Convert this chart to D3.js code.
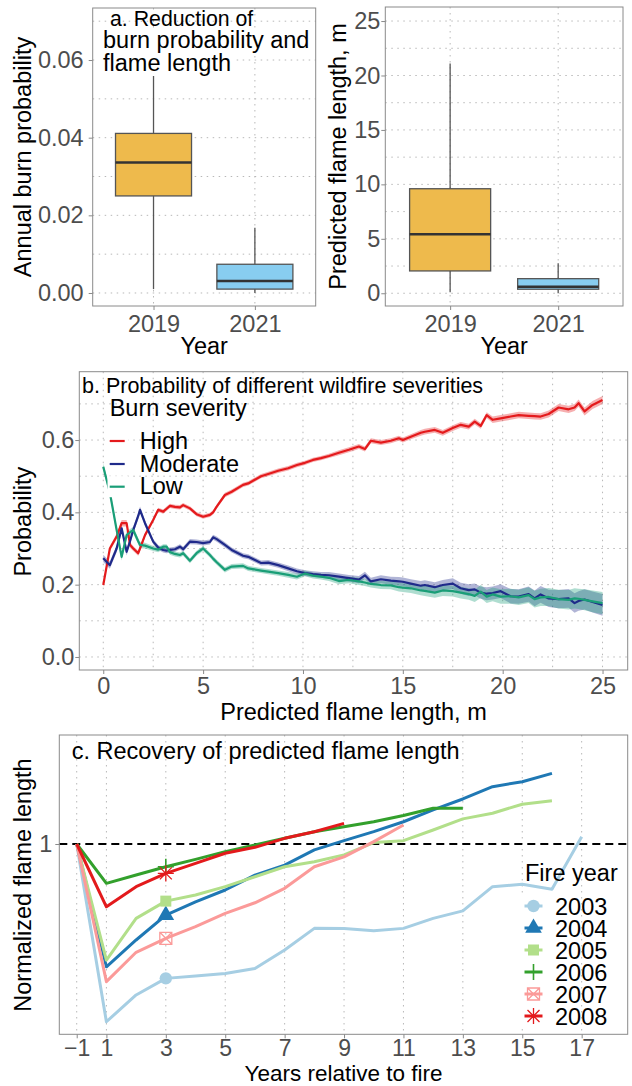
<!DOCTYPE html>
<html lang="en">
<head>
    <meta charset="UTF-8">
    <title>Burn probability and flame length</title>
    <script src="https://d3js.org/d3.v7.min.js"></script>
    <style>
        body { margin: 0; background: #fff; }
        text { font-family: Arial, "Liberation Sans", sans-serif; }
    </style>
</head>
<body>
<svg id="main" width="632" height="1086"></svg>
<script>
    // ---------- panel a data ----------
    const boxYears = ['2019', '2021'];
    const boxFill = ['#EEBA4C', '#88CDF0'];
    // [lower whisker, q1, median, q3, upper whisker]
    const burnProbStats = [[0.001, 0.025, 0.0336, 0.0411, 0.0564], [0.0, 0.001, 0.0031, 0.0074, 0.0168]];
    const flameStats = [[0.1, 2.05, 5.41, 9.6, 21.1], [0.0, 0.37, 0.6, 1.34, 2.75]];
    const burnProbTicks = [0, 0.02, 0.04, 0.06];
    const burnProbMinor = [0.01, 0.03, 0.05, 0.07];
    const flameTicks = [0, 5, 10, 15, 20, 25];
    const flameMinor = [2.5, 7.5, 12.5, 17.5, 22.5];

    // ---------- panel b data ----------
    const sevX = [0, 0.33, 0.67, 0.92, 1.17, 1.34, 1.5, 1.75, 1.84, 2.09, 2.5, 2.75, 3.0, 3.17, 3.34, 3.59, 3.84, 4.0,
        4.34, 4.67, 5.0, 5.34, 5.5, 5.68, 6.09, 6.43, 7.0, 7.26, 7.9, 8.26, 8.76, 9.26, 9.7, 10.1, 10.5, 10.9, 11.3,
        11.8, 12.3, 12.8, 13.1, 13.4, 13.9, 14.4, 14.8, 15.0, 15.4, 15.9, 16.1, 16.6, 17.0, 17.5, 17.9, 18.3, 18.6,
        18.9, 19.2, 19.5, 19.9, 20.4, 20.8, 21.3, 21.6, 21.9, 22.3, 22.8, 23.3, 23.6, 23.8, 24.1, 24.5, 25.0];
    const highP = [0.199, 0.30, 0.333, 0.37, 0.37, 0.31, 0.30, 0.287, 0.30, 0.337, 0.379, 0.407, 0.402, 0.41, 0.418,
        0.415, 0.414, 0.42, 0.411, 0.395, 0.388, 0.393, 0.40, 0.416, 0.448, 0.457, 0.476, 0.48, 0.50, 0.506, 0.515,
        0.522, 0.531, 0.537, 0.545, 0.55, 0.556, 0.565, 0.573, 0.582, 0.575, 0.598, 0.593, 0.598, 0.605, 0.600,
        0.609, 0.62, 0.623, 0.628, 0.62, 0.633, 0.642, 0.637, 0.651, 0.639, 0.669, 0.656, 0.66, 0.665, 0.669, 0.667,
        0.666, 0.665, 0.672, 0.69, 0.685, 0.69, 0.702, 0.679, 0.697, 0.711];
    const modP = [0.273, 0.254, 0.30, 0.356, 0.291, 0.32, 0.351, 0.39, 0.407, 0.37, 0.319, 0.303, 0.296, 0.294, 0.296,
        0.298, 0.305, 0.298, 0.319, 0.318, 0.315, 0.318, 0.331, 0.326, 0.31, 0.296, 0.28, 0.277, 0.26, 0.261, 0.254,
        0.245, 0.237, 0.232, 0.229, 0.227, 0.226, 0.222, 0.218, 0.214, 0.226, 0.209, 0.215, 0.211, 0.209, 0.208,
        0.203, 0.197, 0.199, 0.193, 0.199, 0.203, 0.19, 0.185, 0.187, 0.178, 0.175, 0.177, 0.182, 0.168, 0.167,
        0.174, 0.162, 0.173, 0.162, 0.16, 0.162, 0.149, 0.155, 0.159, 0.152, 0.144];
    const lowP = [0.526, 0.455, 0.351, 0.277, 0.337, 0.345, 0.351, 0.32, 0.31, 0.308, 0.30, 0.297, 0.305, 0.305, 0.29,
        0.285, 0.282, 0.287, 0.266, 0.287, 0.30, 0.282, 0.272, 0.262, 0.241, 0.25, 0.252, 0.245, 0.239, 0.236, 0.232,
        0.227, 0.222, 0.231, 0.225, 0.222, 0.219, 0.21, 0.213, 0.209, 0.206, 0.202, 0.199, 0.198, 0.193, 0.192, 0.19,
        0.184, 0.183, 0.178, 0.184, 0.182, 0.178, 0.174, 0.169, 0.181, 0.167, 0.173, 0.167, 0.168, 0.165, 0.171,
        0.16, 0.165, 0.166, 0.16, 0.158, 0.162, 0.161, 0.158, 0.154, 0.149];
    // half width of the confidence ribbons
    const highSE = [.006, .007, .008, .009, .009, .008, .007, .007, .007, .006, .006, .006, .006, .006, .006, .006,
        .006, .006, .006, .006, .006, .006, .006, .006, .006, .006, .006, .006, .006, .006, .006, .006, .006, .006,
        .006, .006, .006, .007, .007, .007, .007, .007, .007, .007, .007, .007, .007, .008, .008, .008, .008, .008,
        .008, .008, .008, .008, .008, .009, .009, .009, .009, .009, .009, .009, .01, .01, .01, .01, .01, .011, .011, .011];
    const modSE = [.01, .01, .01, .01, .01, .009, .009, .009, .009, .008, .007, .007, .007, .007, .007, .007, .007,
        .007, .007, .007, .007, .007, .007, .007, .007, .007, .007, .007, .007, .007, .007, .008, .008, .008, .008,
        .008, .009, .009, .009, .01, .01, .01, .011, .011, .012, .012, .012, .013, .013, .014, .014, .015, .015, .016,
        .016, .017, .018, .018, .019, .02, .02, .021, .022, .023, .024, .025, .026, .027, .027, .028, .029, .03];
    const lowSE = [.01, .01, .01, .01, .01, .009, .009, .009, .009, .008, .007, .007, .007, .007, .007, .007, .007,
        .007, .007, .007, .007, .007, .007, .007, .007, .007, .007, .007, .007, .007, .007, .008, .008, .008, .008,
        .008, .009, .009, .009, .01, .01, .01, .011, .011, .012, .012, .013, .013, .014, .014, .015, .015, .016, .016,
        .017, .018, .018, .019, .02, .021, .021, .022, .023, .024, .025, .026, .027, .028, .028, .029, .03, .031];
    const sevNames = ['High', 'Moderate', 'Low'];
    const sevColors = ['#E41A1C', '#1F2A8A', '#1A9E77'];
    const sevXTicks = [0, 5, 10, 15, 20, 25];
    const sevXMinor = [2.5, 7.5, 12.5, 17.5, 22.5];
    const sevYTicks = [0, 0.2, 0.4, 0.6];
    const sevYMinor = [0.1, 0.3, 0.5, 0.7];

    // ---------- panel c data ----------
    const fireYears = ['2003', '2004', '2005', '2006', '2007', '2008'];
    const fireColors = ['#A6CEE3', '#1F78B4', '#B2DF8A', '#33A02C', '#FB9A99', '#E31A1C'];
    const fireShapes = ['circle', 'triangle', 'square', 'plus', 'squarecross', 'asterisk'];
    const relYears = [-1, 1, 2, 3, 4, 5, 6, 7, 8, 9, 10, 11, 12, 13, 14, 15, 16, 17];
    const fl2003 = [1, 0.25, 0.363, 0.433, 0.443, 0.454, 0.475, 0.553, 0.644, 0.643, 0.634, 0.644, 0.686, 0.718, 0.82, 0.83, 0.809, 1.031];
    const fl2004 = [1, 0.482, 0.595, 0.70, 0.756, 0.806, 0.869, 0.911, 0.975, 1.014, 1.052, 1.094, 1.144, 1.19, 1.242, 1.263, 1.298];
    const fl2005 = [1, 0.51, 0.686, 0.759, 0.785, 0.82, 0.862, 0.904, 0.925, 0.954, 1.006, 1.014, 1.059, 1.106, 1.13, 1.168, 1.183];
    const fl2006 = [1, 0.834, 0.869, 0.904, 0.935, 0.968, 0.996, 1.024, 1.052, 1.073, 1.094, 1.12, 1.151, 1.151];
    const fl2007 = [1, 0.419, 0.543, 0.602, 0.651, 0.707, 0.752, 0.813, 0.904, 0.946, 1.01, 1.08];
    const fl2008 = [1, 0.735, 0.82, 0.876, 0.918, 0.961, 0.986, 1.024, 1.052, 1.087];
    const flSeries = [fl2003, fl2004, fl2005, fl2006, fl2007, fl2008];
    const relTicks = [-1, 1, 3, 5, 7, 9, 11, 13, 15, 17];

    // ---------- helpers ----------
    const svg = d3.select('svg#main');
    const FS = 23.5;
    const gridCol = '#b8b8b8';

    function grid(g, b, xs, ys) {
        g.selectAll(null).data(xs).enter().append('line')
            .attr('x1', d => d).attr('x2', d => d).attr('y1', b.y0).attr('y2', b.y1)
            .attr('stroke', gridCol).attr('stroke-dasharray', '1.5,4.5');
        g.selectAll(null).data(ys).enter().append('line')
            .attr('y1', d => d).attr('y2', d => d).attr('x1', b.x0).attr('x2', b.x1)
            .attr('stroke', gridCol).attr('stroke-dasharray', '1.5,4.5');
    }

    function border(g, b) {
        g.append('rect').attr('x', b.x0).attr('y', b.y0)
            .attr('width', b.x1 - b.x0).attr('height', b.y1 - b.y0)
            .attr('fill', 'none').attr('stroke', '#8a8a8a').attr('stroke-width', 1);
    }

    function styleAxis(ax, size) {
        ax.select('.domain').remove();
        ax.attr('font-size', null).attr('font-family', null);
        ax.selectAll('.tick line').attr('stroke', '#8a8a8a');
        ax.selectAll('.tick text').attr('fill', '#4d4d4d').style('font-size', (size || FS) + 'px');
    }

    function text(g, x, y, str, size, anchor, rotate) {
        const t = g.append('text').text(str).style('font-size', size + 'px')
            .attr('text-anchor', anchor || 'start').attr('fill', '#000');
        if (rotate) t.attr('transform', `translate(${x},${y}) rotate(-90)`);
        else t.attr('x', x).attr('y', y);
        return t;
    }

    // ---------- panel a ----------
    function boxPanel(b, yDomain, stats, ticks, minor, fmt, gap, ylab, labX) {
        const g = svg.append('g');
        const x = d3.scalePoint().domain(boxYears).range([b.x0, b.x1]).padding(0.6);
        const y = d3.scaleLinear().domain(yDomain).range([b.y1, b.y0]);
        grid(g, b, boxYears.map(x), ticks.concat(minor).map(y));
        const bw = x.step() * 0.75;

        const boxes = g.selectAll('g.box').data(stats).enter().append('g');
        boxes.append('line')
            .attr('x1', (d, i) => x(boxYears[i])).attr('x2', (d, i) => x(boxYears[i]))
            .attr('y1', d => y(d[0])).attr('y2', d => y(d[4]))
            .attr('stroke', '#555').attr('stroke-width', 1.3);
        boxes.append('rect')
            .attr('x', (d, i) => x(boxYears[i]) - bw / 2).attr('width', bw)
            .attr('y', d => y(d[3])).attr('height', d => y(d[1]) - y(d[3]))
            .attr('fill', (d, i) => boxFill[i]).attr('stroke', '#555').attr('stroke-width', 1.3);
        boxes.append('line')
            .attr('x1', (d, i) => x(boxYears[i]) - bw / 2).attr('x2', (d, i) => x(boxYears[i]) + bw / 2)
            .attr('y1', d => y(d[2])).attr('y2', d => y(d[2]))
            .attr('stroke', '#333').attr('stroke-width', 2.5);

        border(g, b);
        const ay = g.append('g').attr('transform', `translate(${b.x0},0)`)
            .call(d3.axisLeft(y).tickValues(ticks).tickFormat(fmt).tickSize(4).tickPadding(gap - 4));
        styleAxis(ay);
        const ax = g.append('g').attr('transform', `translate(0,${b.y1})`)
            .call(d3.axisBottom(x).tickSize(4).tickPadding(5));
        styleAxis(ax);
        text(g, (b.x0 + b.x1) / 2, 354, 'Year', FS, 'middle');
        text(g, labX, (b.y0 + b.y1) / 2, ylab, FS, 'middle', true);
        return g;
    }

    const gA = boxPanel({x0: 92.7, x1: 315.7, y0: 8, y1: 306}, [-0.00335, 0.0734], burnProbStats,
        burnProbTicks, burnProbMinor, d3.format('.2f'), 9, 'Annual burn probability', 31);
    boxPanel({x0: 385.3, x1: 623, y0: 7, y1: 306}, [-1.17, 26.29], flameStats,
        flameTicks, flameMinor, d3.format('d'), 5, 'Predicted flame length, m', 346);

    // panel a annotation
    gA.append('rect').attr('x', 98).attr('y', 30).attr('width', 212).attr('height', 22)
        .attr('rx', 8).attr('fill', '#fff');
    gA.append('rect').attr('x', 98).attr('y', 52).attr('width', 136).attr('height', 24)
        .attr('rx', 8).attr('fill', '#fff');
    text(gA, 110, 26, 'a. Reduction of', 21.3);
    text(gA, 103, 48, 'burn probability and', FS);
    text(gA, 103, 71, 'flame length', FS);

    // ---------- panel b ----------
    const bB = {x0: 79.3, x1: 627.7, y0: 371.7, y1: 670};
    const gB = svg.append('g');
    const xB = d3.scaleLinear().domain([-1.2, 26.26]).range([bB.x0, bB.x1]);
    const yB = d3.scaleLinear().domain([-0.036, 0.789]).range([bB.y1, bB.y0]);
    grid(gB, bB, sevXTicks.concat(sevXMinor).map(xB), sevYTicks.concat(sevYMinor).map(yB));

    const sevSeries = [[highP, highSE], [modP, modSE], [lowP, lowSE]];
    const idx = sevX.map((d, i) => i);
    sevSeries.forEach((s, k) => {
        const area = d3.area().x(i => xB(sevX[i]))
            .y0(i => yB(s[0][i] - s[1][i])).y1(i => yB(s[0][i] + s[1][i]));
        gB.append('path').datum(idx).attr('d', area)
            .attr('fill', sevColors[k]).attr('fill-opacity', 0.35);
    });
    sevSeries.forEach((s, k) => {
        const line = d3.line().x(i => xB(sevX[i])).y(i => yB(s[0][i]));
        gB.append('path').datum(idx).attr('d', line)
            .attr('fill', 'none').attr('stroke', sevColors[k]).attr('stroke-width', 2.2)
            .attr('stroke-linejoin', 'round');
    });

    // legend b
    text(gB, 82, 393.3, 'b. Probability of different wildfire severities', 21.5);
    text(gB, 109.7, 415.7, 'Burn severity', FS);
    const keyY = [441, 464, 486.7];
    sevNames.forEach((n, k) => {
        gB.append('rect').attr('x', 107.5).attr('y', keyY[k] - 10.5).attr('width', 21).attr('height', 21)
            .attr('fill', '#fff');
        gB.append('line').attr('x1', 109.7).attr('x2', 124.7).attr('y1', keyY[k]).attr('y2', keyY[k])
            .attr('stroke', sevColors[k]).attr('stroke-width', 2.2);
        text(gB, 139.7, keyY[k] + 7.6, n, FS);
    });

    border(gB, bB);
    const ayB = gB.append('g').attr('transform', `translate(${bB.x0},0)`)
        .call(d3.axisLeft(yB).tickValues(sevYTicks).tickFormat(d3.format('.1f')).tickSize(4).tickPadding(1));
    styleAxis(ayB);
    const axB = gB.append('g').attr('transform', `translate(0,${bB.y1})`)
        .call(d3.axisBottom(xB).tickValues(sevXTicks).tickFormat(d3.format('d')).tickSize(4).tickPadding(3));
    styleAxis(axB);
    text(gB, (bB.x0 + bB.x1) / 2, 720, 'Predicted flame length, m', FS, 'middle');
    text(gB, 31, 521.7, 'Probability', FS, 'middle', true);

    // ---------- panel c ----------
    const bC = {x0: 59.3, x1: 627.7, y0: 735, y1: 1034.3};
    const gC = svg.append('g');
    const xC = d3.scaleLinear().domain([-0.586, 18.55]).range([bC.x0, bC.x1]);
    const yC = d3.scaleLinear().domain([0.197, 1.46]).range([bC.y1, bC.y0]);
    // the pre-fire year (-1) sits one step left of year 1
    const posC = yr => xC(yr < 0 ? 0 : yr);
    grid(gC, bC, relTicks.map(posC), []);

    gC.append('line').attr('x1', bC.x0).attr('x2', bC.x1).attr('y1', yC(1)).attr('y2', yC(1))
        .attr('stroke', '#000').attr('stroke-width', 2).attr('stroke-dasharray', '8,5');

    flSeries.forEach((s, k) => {
        const line = d3.line().x((d, i) => posC(relYears[i])).y(d => yC(d));
        gC.append('path').datum(s).attr('d', line)
            .attr('fill', 'none').attr('stroke', fireColors[k]).attr('stroke-width', 3)
            .attr('stroke-linejoin', 'round');
    });

    function shape(g, type, cx, cy, col) {
        if (type === 'circle') {
            g.append('circle').attr('cx', cx).attr('cy', cy).attr('r', 6.2).attr('fill', col);
        } else if (type === 'triangle') {
            g.append('path').attr('d', d3.symbol(d3.symbolTriangle, 120)())
                .attr('transform', `translate(${cx},${cy})`).attr('fill', col);
        } else if (type === 'square') {
            g.append('rect').attr('x', cx - 5.5).attr('y', cy - 5.5).attr('width', 11).attr('height', 11).attr('fill', col);
        } else if (type === 'plus') {
            g.append('path').attr('d', `M${cx - 8},${cy}H${cx + 8}M${cx},${cy - 8}V${cy + 8}`)
                .attr('stroke', col).attr('stroke-width', 1.6);
        } else if (type === 'squarecross') {
            g.append('path').attr('d', `M${cx - 6},${cy - 6}h12v12h-12zM${cx - 6},${cy - 6}l12,12M${cx + 6},${cy - 6}l-12,12`)
                .attr('fill', 'none').attr('stroke', col).attr('stroke-width', 1.3);
        } else {
            g.append('path').attr('d', `M${cx - 8},${cy}H${cx + 8}M${cx},${cy - 8}V${cy + 8}` +
                `M${cx - 6},${cy - 6}L${cx + 6},${cy + 6}M${cx + 6},${cy - 6}L${cx - 6},${cy + 6}`)
                .attr('stroke', col).attr('stroke-width', 1.3);
        }
    }

    const i3 = relYears.indexOf(3);
    flSeries.forEach((s, k) => shape(gC, fireShapes[k], posC(3), yC(s[i3]), fireColors[k]));

    // legend c
    text(gC, 525, 880.7, 'Fire year', FS);
    const legY0 = 906, legStep = 22;
    fireYears.forEach((fy, k) => {
        const cy = legY0 + k * legStep;
        gC.append('rect').attr('x', 521).attr('y', cy - 11).attr('width', 26).attr('height', 22).attr('fill', '#fff');
        gC.append('line').attr('x1', 524.5).attr('x2', 542.5).attr('y1', cy).attr('y2', cy)
            .attr('stroke', fireColors[k]).attr('stroke-width', 3);
        shape(gC, fireShapes[k], 533.5, cy, fireColors[k]);
        text(gC, 555, cy + 8.5, fy, FS);
    });

    text(gC, 71.7, 759.3, 'c. Recovery of predicted flame length', FS);

    border(gC, bC);
    const ayC = gC.append('g').attr('transform', `translate(${bC.x0},0)`)
        .call(d3.axisLeft(yC).tickValues([1]).tickFormat(d3.format('d')).tickSize(4).tickPadding(3));
    styleAxis(ayC);
    const axC = gC.append('g').attr('transform', `translate(0,${bC.y1})`)
        .call(d3.axisBottom(xC).tickValues(relTicks.map(d => d < 0 ? 0 : d))
            .tickFormat((d, i) => relTicks[i] < 0 ? '\u22121' : String(relTicks[i])).tickSize(4).tickPadding(1));
    styleAxis(axC, 23);
    text(gC, (bC.x0 + bC.x1) / 2, 1080.5, 'Years relative to fire', 22.5, 'middle');
    text(gC, 31, 885, 'Normalized flame length', FS, 'middle', true);
</script>
</body>
</html>
